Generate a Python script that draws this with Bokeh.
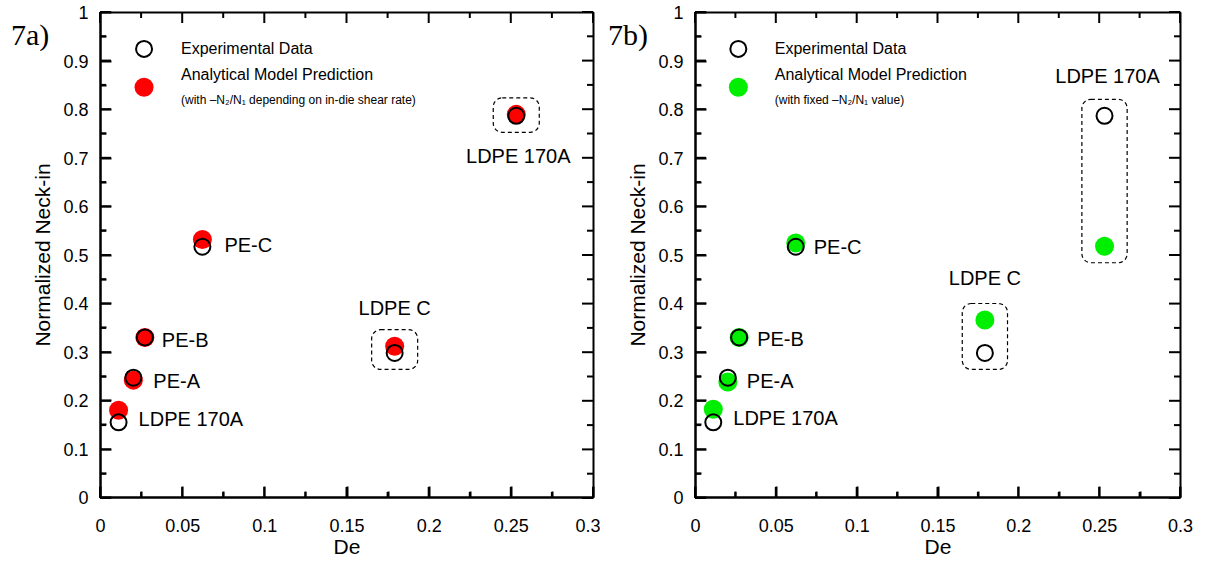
from bokeh.plotting import figure
from bokeh.layouts import row
from bokeh.models import (ColumnDataSource, FixedTicker, NumeralTickFormatter,
                          BoxAnnotation, Range1d, Div)
from bokeh.embed import file_html
from bokeh.resources import INLINE
from bokeh.core.properties import value

# ---------------- data ----------------
materials = ["LDPE 170A", "PE-A", "PE-B", "PE-C", "LDPE C", "LDPE 170A"]
de = [0.011, 0.020, 0.027, 0.062, 0.179, 0.253]
neckin_exp = [0.155, 0.247, 0.330, 0.517, 0.298, 0.787]
neckin_model_a = [0.180, 0.242, 0.330, 0.532, 0.312, 0.790]   # -N2/N1 depending on in-die shear rate
neckin_model_b = [0.182, 0.238, 0.330, 0.525, 0.366, 0.518]   # fixed -N2/N1 value
highlighted = [4, 5]  # indices of materials boxed with dashed frames

x_ticks = [0, 0.05, 0.1, 0.15, 0.2, 0.25, 0.3]
x_minor = [0.025, 0.075, 0.125, 0.175, 0.225, 0.275]
y_ticks = [0, 0.1, 0.2, 0.3, 0.4, 0.5, 0.6, 0.7, 0.8, 0.9, 1.0]
y_minor = [0.05, 0.15, 0.25, 0.35, 0.45, 0.55, 0.65, 0.75, 0.85, 0.95]
x_lim = [0, 0.3]
y_lim = [0, 1]

FONT = "Liberation Sans"
FIG_H = 560
BORDER_TOP = 12
BORDER_BOTTOM = 62
MAJOR_LEN, MINOR_LEN = 11, 6

# label offsets (pixels) and alignment per point, per panel (styling only)
label_style_a = dict(dx=[20, 20, 17, 22, 0, 2], dy=[-3, 3, 3, -2, -45, 40],
                     align=["left", "left", "left", "left", "center", "center"])
label_style_b = dict(dx=[20, 19, 18, 18, 0, 3], dy=[-4, 3, 2, 0, -75, -40],
                     align=["left", "left", "left", "left", "center", "center"])


def make_panel(model, model_color, note, style, width, bl, br):
    p = figure(width=width, height=FIG_H, output_backend="svg", toolbar_location=None,
               x_range=Range1d(*x_lim), y_range=Range1d(*y_lim),
               min_border_left=bl, min_border_right=br, min_border_top=BORDER_TOP,
               min_border_bottom=BORDER_BOTTOM)
    p.grid.visible = False
    p.outline_line_color = "black"
    p.outline_line_width = 2
    p.background_fill_color = None
    p.border_fill_color = None

    p.xaxis.ticker = FixedTicker(ticks=x_ticks, minor_ticks=x_minor)
    p.yaxis.ticker = FixedTicker(ticks=y_ticks, minor_ticks=y_minor)

    for ax in p.axis:
        ax.formatter = NumeralTickFormatter(format="0.[00]")
        ax.axis_line_width = 2
        ax.axis_line_color = "black"
        ax.major_tick_in = MAJOR_LEN
        ax.major_tick_out = 0
        ax.minor_tick_in = MINOR_LEN
        ax.minor_tick_out = 0
        ax.major_tick_line_width = 2
        ax.minor_tick_line_width = 2
        ax.major_label_text_font = FONT
        ax.major_label_text_font_size = "18px"
        ax.major_label_text_color = "black"
        ax.axis_label_text_font = FONT
        ax.axis_label_text_font_style = "normal"
        ax.axis_label_text_color = "black"
        ax.axis_label_text_font_size = "21px"

    p.xaxis.axis_label = "De"
    p.xaxis.major_label_standoff = 21
    p.xaxis.axis_label_standoff = 0
    p.yaxis.axis_label = "Normalized Neck-in"
    p.yaxis.major_label_standoff = 12
    p.yaxis.axis_label_standoff = 6

    # dashed rounded boxes around highlighted materials
    for i in highlighted:
        lo = min(neckin_exp[i], model[i])
        hi = max(neckin_exp[i], model[i])
        p.add_layout(BoxAnnotation(left=de[i] - 0.014, right=de[i] + 0.014,
                                   bottom=lo - 0.034, top=hi + 0.034,
                                   fill_alpha=0, line_color="black", line_alpha=1,
                                   line_width=1.2, line_dash="4 3",
                                   border_radius=9))

    src = ColumnDataSource(dict(de=de, exp=neckin_exp, model=model, name=materials,
                                dx=style["dx"], dy=style["dy"], align=style["align"]))
    p.scatter("de", "model", source=src, size=19, fill_color=model_color,
              line_color=None)
    p.scatter("de", "exp", source=src, size=16, fill_color=None,
              line_color="black", line_width=2)
    p.text("de", "exp", text="name", source=src, x_offset="dx", y_offset="dy",
           text_align="align", text_baseline="middle",
           text_font=value(FONT), text_font_size="20px", text_color="black")

    # in-plot legend
    p.scatter([0.0265], [0.925], size=16, fill_color=None, line_color="black", line_width=2)
    p.scatter([0.0265], [0.846], size=19, fill_color=model_color, line_color=None)
    p.text([0.049, 0.049], [0.925, 0.872],
           text=["Experimental Data", "Analytical Model Prediction"],
           text_baseline="middle", text_align="left",
           text_font=value(FONT), text_font_size="16px", text_color="black")
    p.text([0.049], [0.819], text=[note], text_baseline="middle", text_align="left",
           text_font=value(FONT), text_font_size="12px", text_color="black")
    return p


def tick_overlay(fig_x, width, bl, br):
    """Inward ticks on all four frame edges, as a small SVG laid over the frame
    (positions derived from the tick arrays and the frame size)."""
    fw = width - bl - br
    fh = FIG_H - BORDER_TOP - BORDER_BOTTOM

    def sx(v):
        return (v - x_lim[0]) / (x_lim[1] - x_lim[0]) * fw

    def sy(v):
        return fh - (v - y_lim[0]) / (y_lim[1] - y_lim[0]) * fh

    parts = []
    for pos, L in ((x_ticks, MAJOR_LEN), (x_minor, MINOR_LEN)):
        for v in pos:
            x = sx(v)
            parts.append(f'<line x1="{x:.1f}" y1="{fh}" x2="{x:.1f}" y2="{fh - L}"/>')
            parts.append(f'<line x1="{x:.1f}" y1="0" x2="{x:.1f}" y2="{L}"/>')
    for pos, L in ((y_ticks, MAJOR_LEN), (y_minor, MINOR_LEN)):
        for v in pos:
            y = sy(v)
            parts.append(f'<line x1="0" y1="{y:.1f}" x2="{L}" y2="{y:.1f}"/>')
            parts.append(f'<line x1="{fw}" y1="{y:.1f}" x2="{fw - L}" y2="{y:.1f}"/>')
    svg = (f'<svg xmlns="http://www.w3.org/2000/svg" width="{fw}" height="{fh}" '
           f'style="display:block;overflow:visible" stroke="black" stroke-width="2">'
           + "".join(parts) + "</svg>")
    return Div(text=svg, styles={
        "position": "absolute", "left": f"{fig_x + bl}px", "top": f"{BORDER_TOP}px",
        "margin": "0", "padding": "0", "line-height": "0", "z-index": "10",
        "pointer-events": "none"})


def panel_tag(text, left):
    return Div(text=text, styles={
        "position": "absolute", "left": f"{left}px", "top": "20px",
        "font-family": "Liberation Serif", "font-size": "30px",
        "line-height": "30px", "color": "black", "margin": "0", "padding": "0",
        "z-index": "10"})


W_A, BL_A, BR_A = 600, 100, 7
W_B, BL_B, BR_B = 617, 95, 37

pa = make_panel(neckin_model_a, "#ff0000",
                "(with \u2013N\u2082/N\u2081 depending on in-die shear rate)",
                label_style_a, W_A, BL_A, BR_A)
pb = make_panel(neckin_model_b, "#00ee00",
                "(with fixed \u2013N\u2082/N\u2081 value)",
                label_style_b, W_B, BL_B, BR_B)

layout = row(pa, pb,
             tick_overlay(0, W_A, BL_A, BR_A), tick_overlay(W_A, W_B, BL_B, BR_B),
             panel_tag("7a)", 11), panel_tag("7b)", 608))
open("out.html", "w").write(file_html(layout, INLINE))
